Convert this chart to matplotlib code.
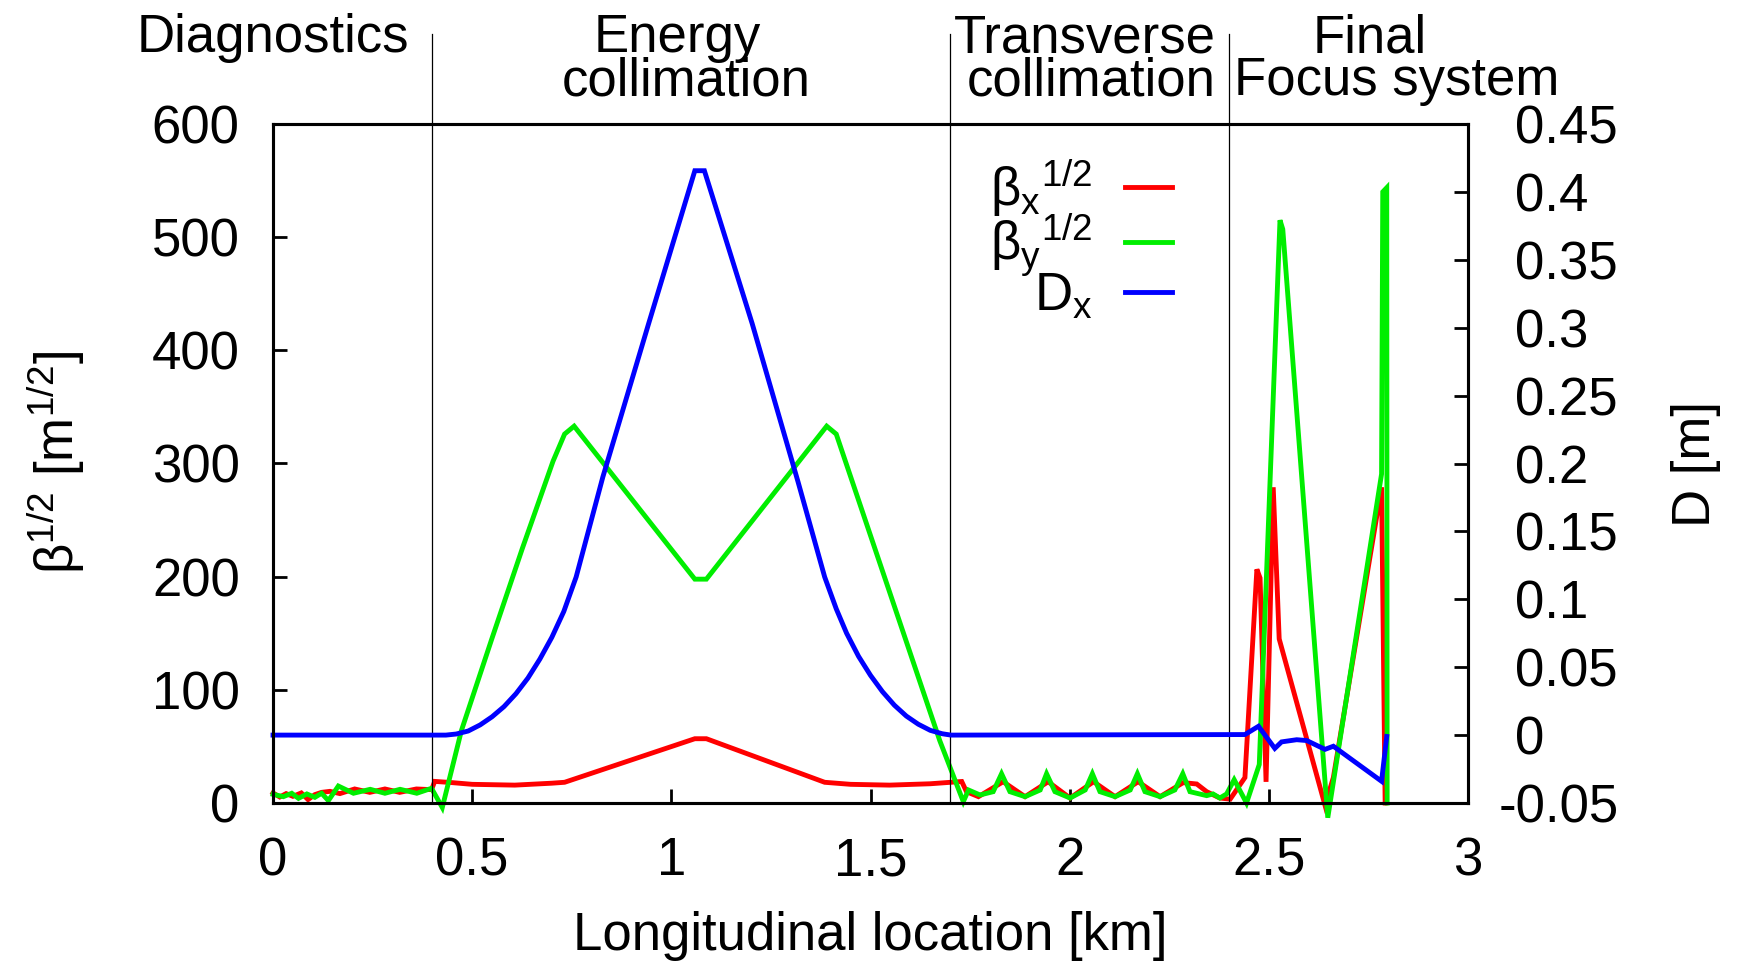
import matplotlib
matplotlib.use('Agg')
import matplotlib.pyplot as plt
from matplotlib.transforms import ScaledTranslation

plt.rcParams['font.family'] = ['Liberation Sans', 'DejaVu Sans']
plt.rcParams['mathtext.fontset'] = 'custom'
plt.rcParams['mathtext.rm'] = 'Liberation Sans'
plt.rcParams['mathtext.it'] = 'Liberation Sans'
plt.rcParams['mathtext.bf'] = 'Liberation Sans:bold'
plt.rcParams['axes.unicode_minus'] = False

# ---------------- data ----------------
bx_s = [0.0, 0.017, 0.033, 0.05, 0.071, 0.088, 0.105, 0.122, 0.143, 0.168, 0.205, 0.243,
        0.281, 0.318, 0.36, 0.398, 0.406, 0.45, 0.5, 0.607, 0.7, 0.732, 1.059, 1.088, 1.385,
        1.45, 1.548, 1.65, 1.729, 1.741, 1.771, 1.833, 1.888, 1.946, 2.001, 2.06, 2.114,
        2.172, 2.227, 2.285, 2.319, 2.344, 2.377, 2.403, 2.44, 2.470, 2.478, 2.493, 2.511,
        2.526, 2.641, 2.662, 2.783, 2.792]
bx_v = [8.9, 5.3, 8.3, 5.9, 8.9, 3.0, 7.4, 9.4, 10.3, 8.3, 12.4, 9.4,
        12.4, 9.4, 12.4, 11.8, 19.1, 18.0, 16.5, 15.8, 17.5, 18.3, 56.8, 56.8, 18.3,
        16.5, 15.8, 17.0, 19.0, 10.0, 5.6, 18.8, 5.6, 18.8, 4.4, 18.8, 5.6,
        18.8, 5.6, 18.0, 16.8, 10.0, 4.4, 3.4, 22.5, 206.5, 198.8, 18.7, 279.0,
        145.0, -2.0, 22.5, 279.0, 0.0]

by_s = [0.0, 0.026, 0.047, 0.064, 0.085, 0.105, 0.122, 0.139, 0.164, 0.202, 0.244, 0.281,
        0.319, 0.361, 0.398, 0.425, 0.473, 0.549, 0.626, 0.703, 0.732, 0.756, 1.059, 1.088,
        1.390, 1.414, 1.674, 1.733, 1.746, 1.775, 1.808, 1.829, 1.850, 1.888, 1.926, 1.942,
        1.963, 2.001, 2.039, 2.057, 2.076, 2.114, 2.152, 2.170, 2.189, 2.227, 2.264, 2.284,
        2.302, 2.344, 2.360, 2.377, 2.394, 2.413, 2.444, 2.476, 2.528, 2.535, 2.648, 2.783,
        2.786, 2.796, 2.797]
by_v = [7.7, 5.6, 8.6, 4.1, 8.0, 5.0, 8.6, 2.1, 15.0, 8.6, 12.1, 8.6,
        12.1, 8.6, 13.0, -4.0, 64.0, 144.7, 225.0, 302.0, 326.0, 333.0, 197.8, 197.8,
        333.0, 326.0, 55.0, 1.2, 11.5, 7.1, 10.0, 25.9, 10.0, 5.6, 11.5, 25.9,
        10.0, 4.4, 11.5, 25.9, 10.0, 5.6, 11.5, 25.9, 10.0, 5.6, 11.5, 25.9,
        10.0, 6.5, 8.0, 4.4, 8.0, 20.6, 0.0, 34.0, 515.0, 507.0, -13.0, 290.7,
        540.0, 543.7, 0.0]

dx_s = [0.0, 0.434, 0.46, 0.49, 0.52, 0.55, 0.58, 0.61, 0.64, 0.67, 0.70, 0.73, 0.761,
        0.828, 0.943, 1.059, 1.083, 1.203, 1.318, 1.385, 1.414, 1.44, 1.47, 1.50, 1.53,
        1.56, 1.59, 1.62, 1.65, 1.68, 1.702,
        2.44, 2.474, 2.515, 2.532, 2.570, 2.595, 2.641, 2.662, 2.783, 2.796]
dx_v = [0.0, 0.0, 0.0008, 0.003, 0.0075, 0.0135, 0.021, 0.0305, 0.042, 0.056, 0.072,
        0.091, 0.1164, 0.190, 0.303, 0.4156, 0.4156, 0.303, 0.1866, 0.1164, 0.093, 0.075,
        0.058, 0.044, 0.032, 0.022, 0.014, 0.008, 0.0035, 0.001, 0.0,
        0.0004, 0.0065, -0.0098, -0.005, -0.0034, -0.004, -0.0105, -0.0082, -0.034, -0.001]

section_bounds = [0.4, 1.7, 2.4]
section_labels = [("Diagnostics", 0.0, 1.106),
                  ("Energy", 1.016, 1.106), ("collimation", 1.038, 1.0425),
                  ("Transverse", 2.037, 1.106), ("collimation", 2.055, 1.0425),
                  ("Final", 2.752, 1.106), ("Focus system", 2.82, 1.0425)]

xticks = [0, 0.5, 1, 1.5, 2, 2.5, 3]
xticklabels = ["0", "0.5", "1", "1.5", "2", "2.5", "3"]
yticks = [0, 100, 200, 300, 400, 500, 600]
y2ticks = [-0.05, 0.0, 0.05, 0.1, 0.15, 0.2, 0.25, 0.3, 0.35, 0.4, 0.45]
y2ticklabels = ["-0.05", "0", "0.05", "0.1", "0.15", "0.2", "0.25", "0.3", "0.35", "0.4", "0.45"]

FS = 38
W, H = 1753, 969
LW = 3.5

fig = plt.figure(figsize=(W / 100, H / 100), dpi=100)
ax = fig.add_axes([273 / W, (H - 803) / H, 1195 / W, 679 / H])
ax2 = ax.twinx()

l1, = ax.plot(bx_s, bx_v, color='#ff0000', lw=LW, clip_on=False, solid_joinstyle='miter')
l2, = ax.plot(by_s, by_v, color='#00ee00', lw=LW, clip_on=False, solid_joinstyle='miter')
l3, = ax2.plot(dx_s, dx_v, color='#0000ff', lw=LW, clip_on=False, solid_joinstyle='miter')

ax.set_xlim(0, 3)
ax.set_ylim(0, 600)
ax2.set_ylim(-0.05, 0.45)

for b in section_bounds:
    ax.axvline(b, ymin=0, ymax=1.1325, color='black', lw=0.9, clip_on=False)

for txt, xs, ya in section_labels:
    ax.text(xs, ya, txt, transform=ax.get_xaxis_transform(), ha='center', va='baseline',
            fontsize=FS)

ax.set_xticks(xticks)
ax.set_xticklabels(xticklabels)
ax.set_yticks(yticks)
ax2.set_yticks(y2ticks)
ax2.set_yticklabels(y2ticklabels)

ax.tick_params(axis='both', direction='in', length=10, width=2, labelsize=FS, pad=24,
               top=False, right=False)
ax2.tick_params(axis='y', direction='in', length=10, width=2, labelsize=FS, pad=34,
                left=False, right=True)
for a in (ax, ax2):
    for sp in a.spines.values():
        sp.set_linewidth(2.2)

# shift the "-0.05" label so that the digits line up like the original
lab = ax2.get_yticklabels()[0]
lab.set_transform(lab.get_transform() + ScaledTranslation(-17 / 100, 0, fig.dpi_scale_trans))

fig.text(56 / W, (H - 463) / H, r'β${}^{1/2}$ [m${}^{1/2}$]', rotation=90,
         ha='center', va='center', fontsize=FS)
fig.text(1696 / W, (H - 464) / H, 'D [m]', rotation=90, ha='center', va='center', fontsize=FS)
fig.text(870 / W, (H - 936) / H, 'Longitudinal location [km]', ha='center', va='center',
         fontsize=FS)

leg = ax2.legend([l1, l2, l3],
                 [r'β${}_{x}{}^{1/2}$', r'β${}_{y}{}^{1/2}$', r'D${}_{x}$'],
                 loc='upper right', bbox_to_anchor=(1172 / W, (H - 157) / H),
                 bbox_transform=fig.transFigure, frameon=False, markerfirst=False,
                 fontsize=FS, handlelength=0.9, handletextpad=0.6, labelspacing=-0.14,
                 borderpad=0, borderaxespad=0)

fig.savefig('out.png', dpi=100)
